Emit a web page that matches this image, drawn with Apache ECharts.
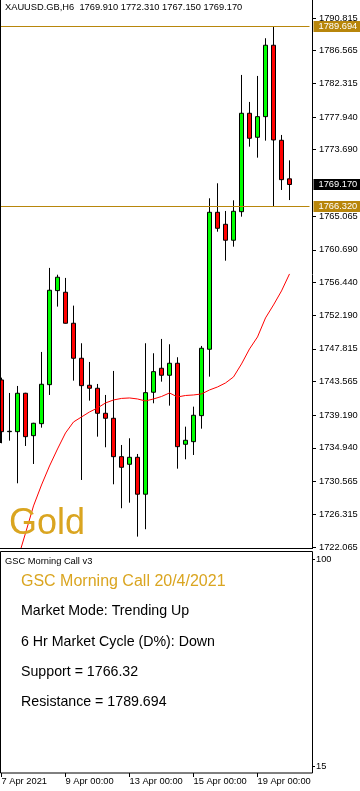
<!DOCTYPE html>
<html><head><meta charset="utf-8">
<script src="https://cdn.jsdelivr.net/npm/echarts@6/dist/echarts.min.js"></script>
<style>html,body{margin:0;padding:0;background:#fff}#c{width:360px;height:791px}</style>
</head><body><div id="c"></div>
<script>
const symbolName = 'XAUUSD.GB,H6';
const days = ['2021.04.07','2021.04.08','2021.04.09','2021.04.12','2021.04.13','2021.04.14','2021.04.15','2021.04.16','2021.04.19','2021.04.20'];
const hours = ['00:00','06:00','12:00','18:00'];
const opens  = [1743.77,1737.05,1737.05,1742.04,1736.53,1738.09,1743.16,1755.38,1755.17,1751.14,1746.59,1743.08,1742.69,1739.44,1738.79,1733.80,1732.81,1733.72,1728.92,1742.17,1745.29,1744.38,1745.94,1735.41,1735.75,1739.13,1747.76,1765.56,1764.00,1761.93,1765.64,1778.43,1775.31,1777.99,1787.27,1774.92,1769.91];
const closes = [1737.05,1737.10,1742.04,1736.40,1738.14,1743.21,1755.43,1757.12,1751.14,1746.59,1743.03,1742.69,1739.44,1738.79,1733.80,1732.42,1733.72,1728.92,1742.12,1744.85,1744.38,1745.94,1735.10,1735.93,1739.18,1747.89,1765.56,1763.48,1761.93,1765.69,1778.43,1775.18,1777.99,1787.27,1774.96,1769.80,1769.17];
const lows   = [1735.54,1735.88,1730.34,1735.19,1732.85,1737.57,1741.82,1753.30,1751.10,1743.68,1730.77,1741.08,1736.40,1735.02,1730.21,1727.10,1727.82,1723.41,1724.37,1740.74,1743.55,1740.43,1732.24,1733.46,1734.02,1737.44,1744.20,1763.04,1759.27,1761.09,1764.99,1774.09,1772.66,1774.87,1766.32,1768.46,1767.15];
const highs  = [1744.07,1742.08,1742.99,1742.10,1738.20,1747.41,1758.33,1757.45,1757.03,1753.43,1748.54,1746.11,1743.25,1741.82,1744.94,1735.32,1736.19,1734.15,1748.54,1747.24,1749.10,1748.41,1746.72,1737.70,1740.30,1748.19,1767.38,1769.33,1765.73,1767.12,1783.41,1779.90,1783.28,1788.18,1789.694,1775.61,1772.31];
const maValues = [null,null,1720.38,1723.86,1727.40,1730.12,1732.59,1734.80,1736.88,1738.31,1738.96,1739.61,1740.13,1740.78,1741.17,1741.37,1741.43,1741.30,1741.04,1741.30,1741.62,1742.08,1741.56,1741.75,1741.82,1741.95,1742.47,1742.86,1743.38,1744.16,1745.85,1747.80,1749.36,1751.83,1753.52,1755.34,1757.55];
const resistance = 1789.694;
const support = 1766.32;
const priceTicks = [1790.815,1786.565,1782.315,1777.940,1773.690,1765.065,1760.690,1756.440,1752.190,1747.815,1743.565,1739.190,1734.940,1730.565,1726.315,1722.065];
const subTicks = [100, 15];
const xTickIdx = [0, 8, 16, 24, 32];
const xTickLabels = ['7 Apr 2021', '9 Apr 00:00', '13 Apr 00:00', '15 Apr 00:00', '19 Apr 00:00'];
const indicatorName = 'GSC Morning Call v3';
const panelTitle = 'GSC Morning Call 20/4/2021';
const panelLines = ['Market Mode: Trending Up', '6 Hr Market Cycle (D%): Down', 'Support = 1766.32', 'Resistance = 1789.694'];
const watermark = 'Gold';

const FONT = '"Liberation Sans", Arial, sans-serif';
const GOLD = '#DAA520';
const DARKGOLD = '#B8860B';

let categories = [];
days.forEach(d => hours.forEach(h => categories.push(d + ' ' + h)));
categories = categories.slice(0, opens.length).concat(['', '']);
const candles = opens.map((o, i) => [o, closes[i], lows[i], highs[i]]);
const last = opens.length - 1;
const header = symbolName + '  ' + [opens[last], highs[last], lows[last], closes[last]].map(v => v.toFixed(3)).join(' ');

const chart = echarts.init(document.getElementById('c'), null, {renderer: 'canvas'});
const GL = -2.5, GW = 312;

const option = {
  animation: false,
  backgroundColor: '#fff',
  textStyle: {fontFamily: FONT},
  title: {text: header, left: 5, top: 2.5, padding: 0,
    textStyle: {fontSize: 9.3, fontWeight: 'normal', color: '#000', fontFamily: FONT}},
  grid: [
    {left: GL, top: 0, width: GW, height: 548, containLabel: false, outerBoundsMode: 'none'},
    {left: GL, top: 551, width: GW, height: 222, containLabel: false, outerBoundsMode: 'none'}
  ],
  xAxis: [
    {type: 'category', gridIndex: 0, data: categories, boundaryGap: true,
      axisLine: {show: false}, axisTick: {show: false}, axisLabel: {show: false}, splitLine: {show: false}},
    {type: 'category', gridIndex: 1, data: categories, boundaryGap: true,
      axisLine: {show: false}, splitLine: {show: false},
      axisTick: {show: true, alignWithLabel: true, length: 4, interval: (i) => xTickIdx.indexOf(i) >= 0, lineStyle: {color: '#000', width: 1}},
      axisLabel: {show: true, interval: (i) => xTickIdx.indexOf(i) >= 0, formatter: (v, i) => xTickLabels[xTickIdx.indexOf(i)] || '',
        align: 'left', margin: 4, color: '#000', fontSize: 9.3, fontFamily: FONT}}
  ],
  yAxis: [
    {type: 'value', gridIndex: 0, position: 'right', offset: 2.5, min: 1721.93, max: 1793.15, scale: true,
      axisLine: {show: false}, splitLine: {show: false},
      axisTick: {show: true, customValues: priceTicks, length: 4, lineStyle: {color: '#000'}},
      axisLabel: {show: true, customValues: priceTicks, formatter: v => Number(v).toFixed(3), margin: 7, color: '#000', fontSize: 9.3, fontFamily: FONT}},
    {type: 'value', gridIndex: 1, position: 'right', offset: 2.5, min: 12.126, max: 103.285,
      axisLine: {show: false}, splitLine: {show: false},
      axisTick: {show: true, customValues: subTicks, length: 3, lineStyle: {color: '#000'}},
      axisLabel: {show: true, customValues: subTicks, formatter: v => String(v), margin: 4, color: '#000', fontSize: 9.3, fontFamily: FONT}}
  ],
  series: [
    {type: 'candlestick', xAxisIndex: 0, yAxisIndex: 0, data: candles, barWidth: 5, z: 3,
      itemStyle: {color: '#00FF00', color0: '#FF0000', borderColor: '#000', borderColor0: '#000', borderColorDoji: '#000', borderWidth: 1},
      markLine: {silent: true, symbol: 'none', animation: false, z: 10, precision: 3,
        label: {show: true, position: 'end', distance: 4, fontSize: 9.3, fontFamily: FONT,
          color: '#fff', padding: [1, 4, 0, 5], lineHeight: 10},
        data: [
          {yAxis: resistance, lineStyle: {color: DARKGOLD, width: 1, type: 'solid'},
            label: {backgroundColor: DARKGOLD, formatter: resistance.toFixed(3)}},
          {yAxis: support, lineStyle: {color: DARKGOLD, width: 1, type: 'solid'},
            label: {backgroundColor: DARKGOLD, formatter: support.toFixed(3)}},
          {yAxis: closes[last], lineStyle: {color: 'rgba(0,0,0,0)', width: 1, type: 'solid'},
            label: {backgroundColor: '#000', formatter: closes[last].toFixed(3)}}
        ]}},
    {type: 'line', xAxisIndex: 0, yAxisIndex: 0, data: maValues, symbol: 'none', z: 4,
      lineStyle: {color: '#FF0000', width: 1}, clip: true, connectNulls: false}
  ],
  graphic: [
    {type: 'line', z: 100, shape: {x1: 312.5, y1: 0, x2: 312.5, y2: 549}, style: {stroke: '#000', lineWidth: 1}},
    {type: 'line', z: 100, shape: {x1: 0, y1: 548.5, x2: 312, y2: 548.5}, style: {stroke: '#000', lineWidth: 1}},
    {type: 'line', z: 100, shape: {x1: 0.5, y1: 0, x2: 0.5, y2: 443}, style: {stroke: '#000', lineWidth: 1}},
    {type: 'rect', z: 100, shape: {x: 0.5, y: 551.5, width: 312, height: 221.5}, style: {fill: null, stroke: '#000', lineWidth: 1}},
    {type: 'text', z: 50, left: 9, top: 506, style: {text: watermark, fontSize: 36, fontFamily: FONT, fill: GOLD}},
    {type: 'text', z: 100, x: 5, y: 561, style: {text: indicatorName, fontSize: 9.3, fontFamily: FONT, fill: '#000', verticalAlign: 'middle'}},
    {type: 'text', z: 100, x: 21, y: 581.5, style: {text: panelTitle, fontSize: 16, fontFamily: FONT, fill: GOLD, verticalAlign: 'middle'}},
    ...panelLines.map((t, i) => ({type: 'text', z: 100, x: 21, y: 611.5 + i * 30.2,
      style: {text: t, fontSize: 14.2, fontFamily: FONT, fill: '#000', verticalAlign: 'middle'}}))
  ]
};
chart.setOption(option);
</script>
</body></html>
